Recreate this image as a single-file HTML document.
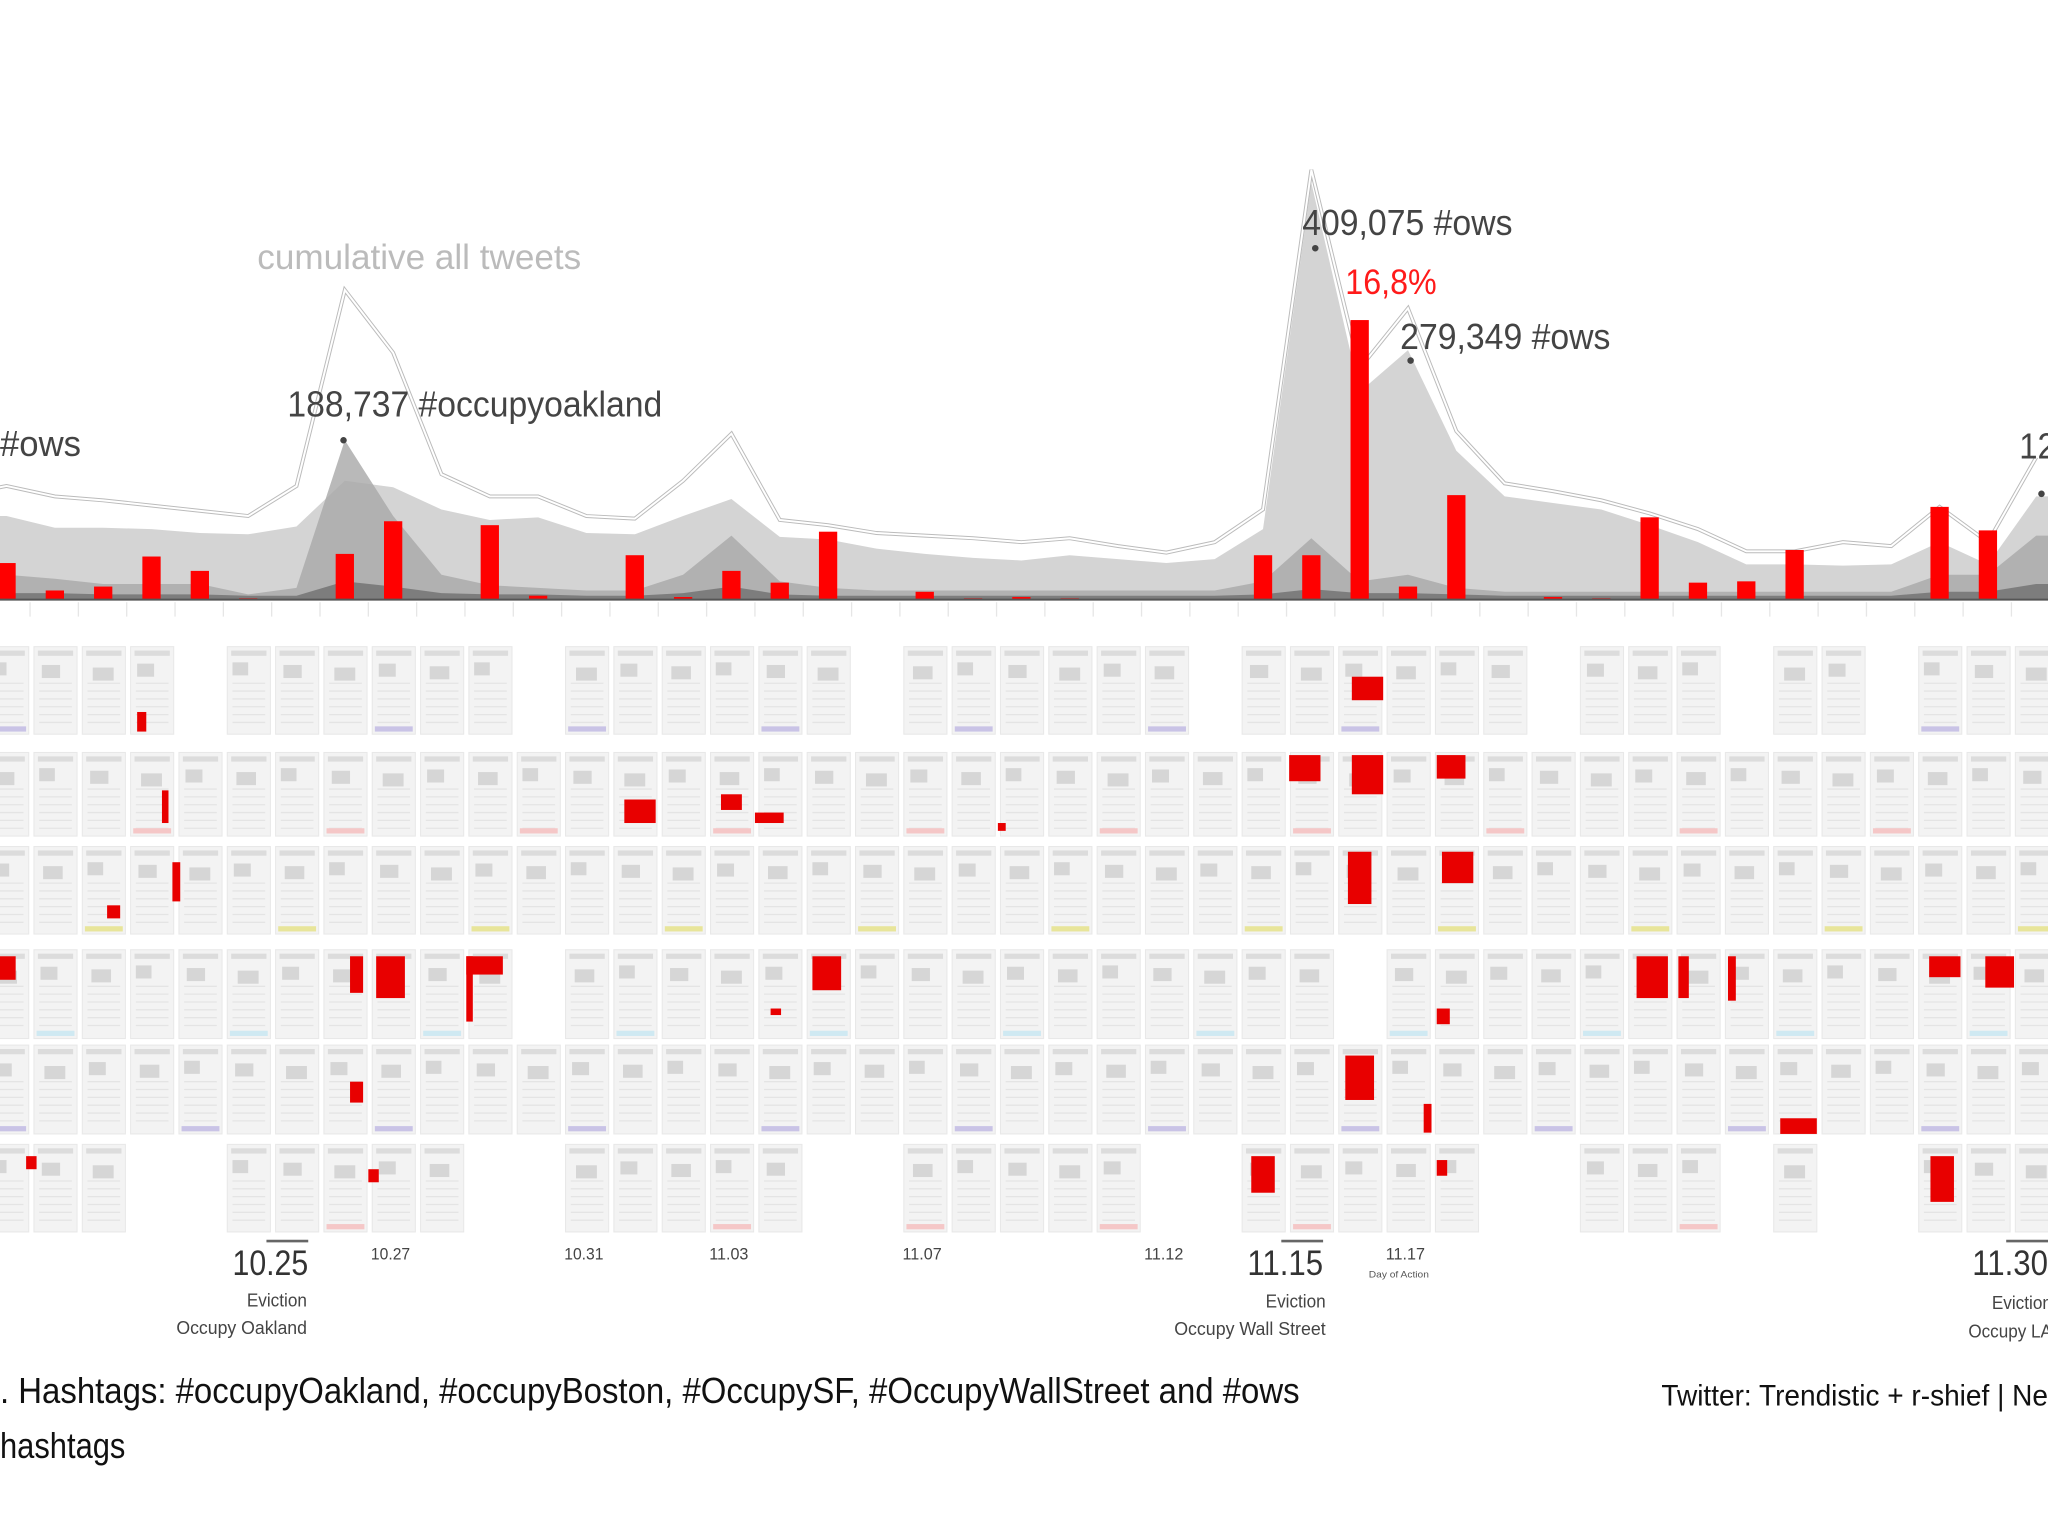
<!DOCTYPE html>
<html><head><meta charset="utf-8"><style>
html,body{margin:0;padding:0;background:#fff;}
svg{display:block;}
text{font-family:"Liberation Sans Narrow","Liberation Sans",sans-serif;}
</style></head>
<body>
<svg id="chart" width="2048" height="1535" viewBox="0 0 1568 1175" preserveAspectRatio="none" xmlns="http://www.w3.org/2000/svg">
<rect width="1568" height="1175" fill="#fff"/>
<g id="areas"></g>
<g id="bars"></g>
<g id="ticks"></g>
<g id="thumbs"></g>
<g id="marks"></g>
<g id="labels"></g>
</svg>
<script>
// Daily data (one entry per day, index 0 = leftmost visible day)
const days = Array.from({length:43},(_,i)=>i);
const cumulative = [87,79,76,72,68,64,87,237,189,96,79,79,64,62,91,127,61,57,51,49,47,44,47,41,36,44,69,329,177,223,129,89,83,76,66,54,37,37,44,41,71,44,109];
const lightArea = [64,55,55,54,51,50,56,91,86,69,61,63,51,50,64,77,48,46,39,35,32,30,34,31,28,31,54,319,159,191,114,79,74,69,57,44,27,27,26,27,44,27,79];
const midArea = [19,16,12,12,12,4,9,122,64,19,11,9,7,7,19,49,14,9,7,7,7,7,7,7,7,7,14,47,14,19,9,6,6,6,6,6,6,6,6,6,19,19,49];
const darkArea = [5,5,4,4,4,3,3,14,10,5,4,4,3,3,5,10,4,3,3,3,3,3,3,3,3,3,4,8,5,5,4,3,3,3,3,3,3,3,3,3,6,6,12];
const redShare = [28,7,10,33,22,1,0,35,60,0,57,3,0,34,2,22,13,52,0,6,1,2,1,0,0,0,34,34,214,10,80,0,2,1,63,13,14,38,0,0,71,53,0];
const dateLabels = [[5,"10.25",true],[7,"10.27",false],[11,"10.31",false],[14,"11.03",false],[18,"11.07",false],[23,"11.12",false],[26,"11.15",true],[28,"11.17",false],[41,"11.30",true]];

const NS="http://www.w3.org/2000/svg";
const X0=5, DX=37, BASE=459;
const xs=i=>X0+DX*i;
const ys=v=>BASE-v;
function el(tag,attrs,parent){const e=document.createElementNS(NS,tag);for(const k in attrs)e.setAttribute(k,attrs[k]);parent.appendChild(e);return e;}

const areas=document.getElementById('areas');
function areaPath(vals){let d=`M${xs(0)-10},${BASE} L${xs(0)-10},${ys(vals[0])}`;vals.forEach((v,i)=>d+=` L${xs(i)},${ys(v)}`);d+=` L${xs(vals.length-1)+15},${ys(vals[vals.length-1])} L${xs(vals.length-1)+15},${BASE} Z`;return d;}
let a1=el('path',{d:areaPath(lightArea),fill:'#d4d4d4'},areas);


let a2=el('path',{d:areaPath(midArea),fill:'#a8a8a8',opacity:'0.8'},areas);


let a3=el('path',{d:areaPath(darkArea),fill:'#707070',opacity:'0.8'},areas);


let lp=`M${xs(0)-10},${ys(cumulative[0])+2}`;cumulative.forEach((v,i)=>lp+=` L${xs(i)},${ys(v)}`);
let l1=el('path',{d:lp,fill:'none',stroke:'#bbb','stroke-width':'3'},areas);


let l2=el('path',{d:lp,fill:'none',stroke:'#fff','stroke-width':'1.5'},areas);



const bars=document.getElementById('bars');
redShare.forEach((v,i)=>{if(v<=0)return;const r=el('rect',{x:xs(i)-7,y:ys(v),width:14,height:v,fill:'#ff0000'},bars);

});
el('line',{x1:0,y1:BASE,x2:1568,y2:BASE,stroke:'#555','stroke-width':'1.5'},bars);

const ticks=document.getElementById('ticks');
days.forEach(i=>{const t=el('line',{x1:xs(i)+18,y1:461,x2:xs(i)+18,y2:472,stroke:'#e6e6e6','stroke-width':'1'},ticks);

});

// newspaper thumbnails
const rows=[[495,562],[576,640],[648,715],[727,795],[800,868],[876,943]];
const gaps=[[4,11,18,25,32,36,39],[],[],[11,28],[],[3,4,10,11,17,18,24,25,31,32,36,38,39]];
const thumbs=document.getElementById('thumbs');
rows.forEach((r,ri)=>{days.forEach(i=>{if(gaps[ri].includes(i))return;const x=xs(i)-16,w=33,h=r[1]-r[0];
const g=el('g',{},thumbs);


el('rect',{x:x,y:r[0],width:w,height:h,fill:'#f3f3f3',stroke:'#e8e8e8','stroke-width':'0.8'},g);
el('rect',{x:x+3,y:r[0]+3,width:w-6,height:4,fill:'#dcdcdc'},g);
const s=(i*7+ri*3)%5;
el('rect',{x:x+4+s,y:r[0]+12+s,width:12+s,height:10,fill:'#d6d6d6'},g);
for(let k=0;k<6;k++)el('line',{x1:x+4,y1:r[0]+28+k*6,x2:x+w-4,y2:r[0]+28+k*6,stroke:'#e4e4e4','stroke-width':'1'},g);
if((i+ri)%4===0)el('rect',{x:x+2,y:r[1]-6,width:w-4,height:4,fill:['#c9c3e6','#cfe9f2','#e8e59a','#f5c7c7'][i%4]},g);
});});

const redBlocks=[[105,545,7,15],[1035,518,24,18],[124,605,5,25],[478,612,24,18],[552,608,16,12],[578,622,22,8],[987,578,24,20],[1035,578,24,30],[1100,578,22,18],[132,660,6,30],[82,693,10,10],[1032,652,18,40],[1104,652,24,24],[0,732,12,18],[268,732,10,28],[288,732,22,32],[357,732,28,14],[357,732,5,50],[622,732,22,26],[1253,732,24,32],[1285,732,8,32],[1323,732,6,34],[1477,732,24,16],[1520,732,22,24],[1100,772,10,12],[268,828,10,16],[1030,808,22,34],[1090,845,6,22],[1363,856,28,12],[20,885,8,10],[958,885,18,28],[282,895,8,10],[1478,885,18,35],[1100,888,8,12],[590,772,8,5],[764,630,6,6]];
const marks=document.getElementById('marks');
redBlocks.forEach(b=>{const r=el('rect',{x:b[0],y:b[1],width:b[2],height:b[3],fill:'#e80000'},marks);

});

const labels=document.getElementById('labels');
function txt(x,y,s,size,fill,name,anchor,len){const a={x:x,y:y,'font-size':size,fill:fill,'text-anchor':anchor||'start'};if(len){a.textLength=len;a.lengthAdjust='spacingAndGlyphs';}const t=el('text',a,labels);t.textContent=s;

return t;}
dateLabels.forEach(d=>{
if(d[2]){const x=xs(d[0])+46;txt(x,976,d[1],27,'#333','date-label-major','end',58);el('line',{x1:x-32,y1:950,x2:x,y2:950,stroke:'#666','stroke-width':'2'},labels);}
else txt(xs(d[0])+35,964,d[1],13,'#444','date-label-minor','middle',30);});
txt(235,1000,"Eviction",14,'#444','event-label','end',46);
txt(235,1021,"Occupy Oakland",14,'#444','event-label','end',100);
txt(1015,1001,"Eviction",14,'#444','event-label','end',46);
txt(1015,1022,"Occupy Wall Street",14,'#444','event-label','end',116);
txt(1571,1002,"Eviction",14,'#444','event-label','end',46);
txt(1571,1024,"Occupy LA",14,'#444','event-label','end',64);
txt(1048,978,"Day of Action",7,'#555','event-label-small','start',46);
txt(197,206,"cumulative all tweets",27,'#bbb','cumulative-label','start',248);
txt(220,319,"188,737 #occupyoakland",28,'#444','peak-label-oakland','start',287);
txt(0,349,"#ows",28,'#444','peak-label-ows-left','start',62);
txt(997,180,"409,075 #ows",28,'#444','peak-label-ows-1115','start',161);
txt(1030,225,"16,8%",27,'#ff1a1a','peak-share-label','start',70);
txt(1072,267,"279,349 #ows",28,'#444','peak-label-ows-1117','start',161);
txt(1546,351,"12",28,'#444','peak-label-right','start',28);
[[263,337],[1007,190],[1080,276],[1563,378]].forEach(p=>{const c=el('circle',{cx:p[0],cy:p[1],r:2.5,fill:'#444'},labels);

});
txt(0,1074,". Hashtags: #occupyOakland, #occupyBoston, #OccupySF, #OccupyWallStreet and #ows",28,'#111','caption-line-1','start',995);
txt(0,1116,"hashtags",28,'#111','caption-line-2','start',96);
txt(1272,1076,"Twitter: Trendistic + r-shief | Ne",23,'#111','source-credit','start',296);
</script>
</body></html>
